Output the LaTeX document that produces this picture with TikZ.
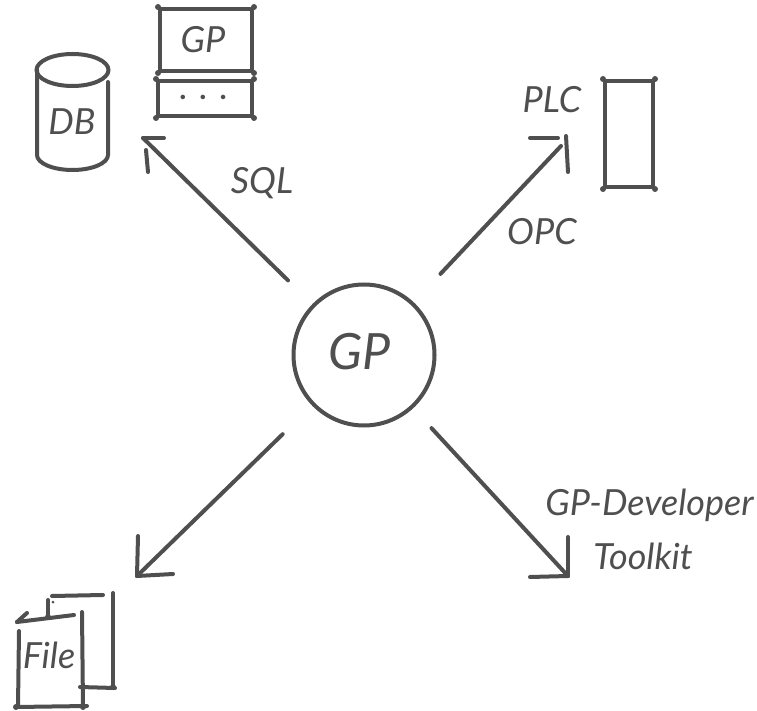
\documentclass[tikz,border=0pt]{standalone}
\usepackage{fontspec}
\setmainfont{Lato}
\definecolor{ink}{HTML}{4F4F4F}
\tikzset{
  pen/.style={draw=ink,line width=4pt,line cap=round},
  lbl/.style={text=ink,inner sep=0pt,font=\fontsize{36}{38}\selectfont\itshape},
  box/.style={pen,inner sep=0pt,lbl}
}
\begin{document}
\begin{tikzpicture}[x=1pt,y=-1pt]
      \useasboundingbox (0,0) rectangle (757,711);
      % hub
      \node[pen,circle,minimum size=141pt,inner sep=0pt] (GP) at (364,355) {};
      \node[lbl,font=\fontsize{50}{52}\selectfont\itshape] (GPname) at (360,352) {GP};
      \coordinate (SQLtip) at (143,138);
      \coordinate (OPCtip) at (561,146);
      \coordinate (FILEtip) at (137,576);
      \coordinate (DEVtip) at (568,576);
      \draw[pen,shorten <=34pt] (GP)--(SQLtip);
      \draw[pen,shorten <=39pt] (GP)--(OPCtip);
      \draw[pen,shorten <=41pt] (GP)--(FILEtip);
      \draw[pen,shorten <=27pt] (GP)--(DEVtip);
      %%
      % arrow heads
      \draw[pen] (SQLtip)--(164,138);
      \draw[pen] (146,150)--(148,172);
      \draw[pen] (530,138)--(558,138);
      \draw[pen] (566,136)--(568,172);
      \draw[pen] (FILEtip)--(138,536);
      \draw[pen] (FILEtip)--(173,574);
      \draw[pen] (DEVtip)--(568,537);
      \draw[pen] (DEVtip)--(530,577);
      %%
      \node[lbl] (SQL) at (262,183) {SQL};
      \node[lbl] (OPC) at (542,232) {OPC};
      \node[lbl] (DEV) at (649.5,505) {GP-Developer};
      \node[lbl] (KIT) at (643,556) {Toolkit};
      %%
      % database
      \draw[pen] (72.5,70) ellipse (36 and 16);
      \draw[pen] (37,70)--(37,155) arc[start angle=180,end angle=0,x radius=35.5,y radius=15]--(108,82);
      \node[lbl] (DB) at (72,122) {DB};
      %%
      % stacked boxes, top left
      \node[box,minimum width=92pt,minimum height=62pt] (GPbox) at (206,40) {};
      \node[lbl] (GPtext) at (203,40) {GP};
      \node[box,minimum width=94pt,minimum height=35pt] (DOTS) at (205,98.5) {};
      \node[lbl,font=\fontsize{30}{32}\selectfont\bfseries] (DOTStext) at (203,97) {.\hspace{13pt}.\hspace{13pt}.};
      \foreach \c in {GPbox.north west,GPbox.north east,GPbox.south west,GPbox.south east,
                      DOTS.north west,DOTS.north east,DOTS.south west,DOTS.south east}
        \fill[ink] (\c) circle (3pt);
      %%
      % PLC
      \node[lbl] (PLC) at (552,100) {PLC};
      \node[pen,minimum width=48pt,minimum height=106pt,inner sep=0pt] (PLCbox) at (629,134) {};
      \foreach \c in {PLCbox.north west,PLCbox.north east,PLCbox.south west,PLCbox.south east}
        \fill[ink] (\c) circle (3pt);
      %%
      % file pages
      \draw[pen] (52,596)--(103,595);
      \draw[pen] (113,593)--(113,688);
      \draw[pen] (80,687)--(115,688);
      \draw[pen] (48,600)--(48,617);
      \draw[pen] (17,622)--(27,613);
      \draw[pen] (17,622)--(74,615);
      \draw[pen] (19,631)--(18,707);
      \draw[pen] (16,707)--(87,706);
      \draw[pen] (82,612)--(83,707);
      \foreach \p in {(48,617),(16,707),(83,707),(83,687),(113,687)}
        \fill[ink] \p circle (3pt);
      \fill[ink] (53,602) circle (1.5pt);
      \node[lbl] (FILE) at (49,655) {File};
    \end{tikzpicture}
\end{document}
